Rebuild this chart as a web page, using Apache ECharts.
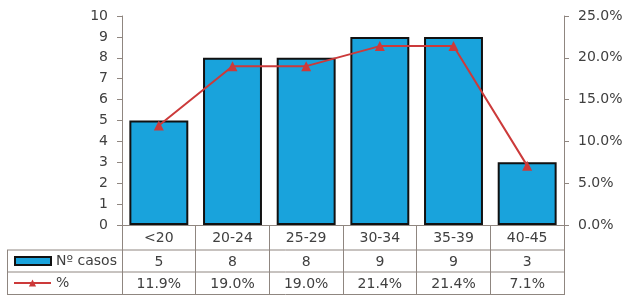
<!DOCTYPE html>
<html>
<head>
<meta charset="utf-8">
<script src="https://cdn.jsdelivr.net/npm/echarts@6/dist/echarts.min.js"></script>
<style>
  html, body { margin: 0; padding: 0; background: #fff; }
  #chart { width: 627px; height: 295px; }
</style>
</head>
<body>
<div id="chart"></div>
<script>
  // grupos de edad
  const categories = ['<20', '20-24', '25-29', '30-34', '35-39', '40-45']
  const casos = [5, 8, 8, 9, 9, 3]
  const porcentaje = [11.9, 19.0, 19.0, 21.4, 21.4, 7.1]

  const lineGray = '#8f8680'
  const textColor = '#404040'
  const font = 'DejaVu Sans'

  const gridLeft = 122
  const gridRight = 564
  const gridTop = 16
  const gridBottom = 225

  const chart = echarts.init(document.getElementById('chart'))

  const tableLine = (x1, y1, x2, y2) => ({
    type: 'line',
    shape: { x1: x1, y1: y1, x2: x2, y2: y2 },
    style: { stroke: lineGray, lineWidth: 1 },
    silent: true
  })

  chart.setOption({
    backgroundColor: '#fff',
    animation: false,
    textStyle: { fontFamily: font, color: textColor },
    grid: {
      left: gridLeft,
      right: 627 - gridRight,
      top: gridTop,
      bottom: 295 - gridBottom
    },
    legend: [{
      data: [{ name: 'Nº casos', icon: 'rect' }],
      left: 14,
      top: 254,
      padding: 0,
      itemWidth: 36,
      itemHeight: 8,
      itemStyle: { borderColor: '#111', borderWidth: 2 },
      textStyle: { fontSize: 14, color: textColor, fontFamily: font }
    }, {
      data: ['%'],
      left: 13,
      top: 276,
      padding: 0,
      itemWidth: 37,
      itemHeight: 9,
      textStyle: { fontSize: 14, color: textColor, fontFamily: font }
    }],
    xAxis: [{
      type: 'category',
      data: categories,
      position: 'bottom',
      axisLine: { show: true, lineStyle: { color: lineGray } },
      axisTick: { show: true, length: 70, interval: 0, lineStyle: { color: lineGray } },
      axisLabel: { margin: 6, fontSize: 14, color: textColor, interval: 0 }
    }, {
      type: 'category',
      data: casos.map(String),
      position: 'bottom',
      offset: 25,
      axisLine: { show: false },
      axisTick: { show: false },
      axisLabel: { margin: 5, fontSize: 14, color: textColor, interval: 0 }
    }, {
      type: 'category',
      data: porcentaje.map(v => v.toFixed(1) + '%'),
      position: 'bottom',
      offset: 47,
      axisLine: { show: false },
      axisTick: { show: false },
      axisLabel: { margin: 5, fontSize: 14, color: textColor, interval: 0 }
    }],
    yAxis: [{
      type: 'value',
      min: 0,
      max: 10,
      interval: 1,
      axisLine: { show: true, lineStyle: { color: lineGray } },
      axisTick: { show: true, length: 5, lineStyle: { color: lineGray } },
      splitLine: { show: false },
      axisLabel: { margin: 14, fontSize: 14, color: textColor }
    }, {
      type: 'value',
      min: 0,
      max: 25,
      interval: 5,
      position: 'right',
      axisLine: { show: true, lineStyle: { color: lineGray } },
      axisTick: { show: true, length: 5, lineStyle: { color: lineGray } },
      splitLine: { show: false },
      axisLabel: {
        margin: 14,
        fontSize: 14,
        color: textColor,
        formatter: v => v.toFixed(1) + '%'
      }
    }],
    series: [{
      name: 'Nº casos',
      type: 'bar',
      data: casos,
      barCategoryGap: '20%',
      itemStyle: { color: '#19a3dc', borderColor: '#111', borderWidth: 2, borderRadius: 0 }
    }, {
      name: '%',
      type: 'line',
      yAxisIndex: 1,
      data: porcentaje,
      symbol: 'triangle',
      symbolSize: 10,
      lineStyle: { color: '#cc3a3a', width: 2 },
      itemStyle: { color: '#cc3a3a' }
    }],
    graphic: [
      tableLine(7, 250, gridRight, 250),
      tableLine(7, 272, gridRight, 272),
      tableLine(7, 294.5, gridRight, 294.5),
      tableLine(7.5, 250, 7.5, 295)
    ]
  })
</script>
</body>
</html>
